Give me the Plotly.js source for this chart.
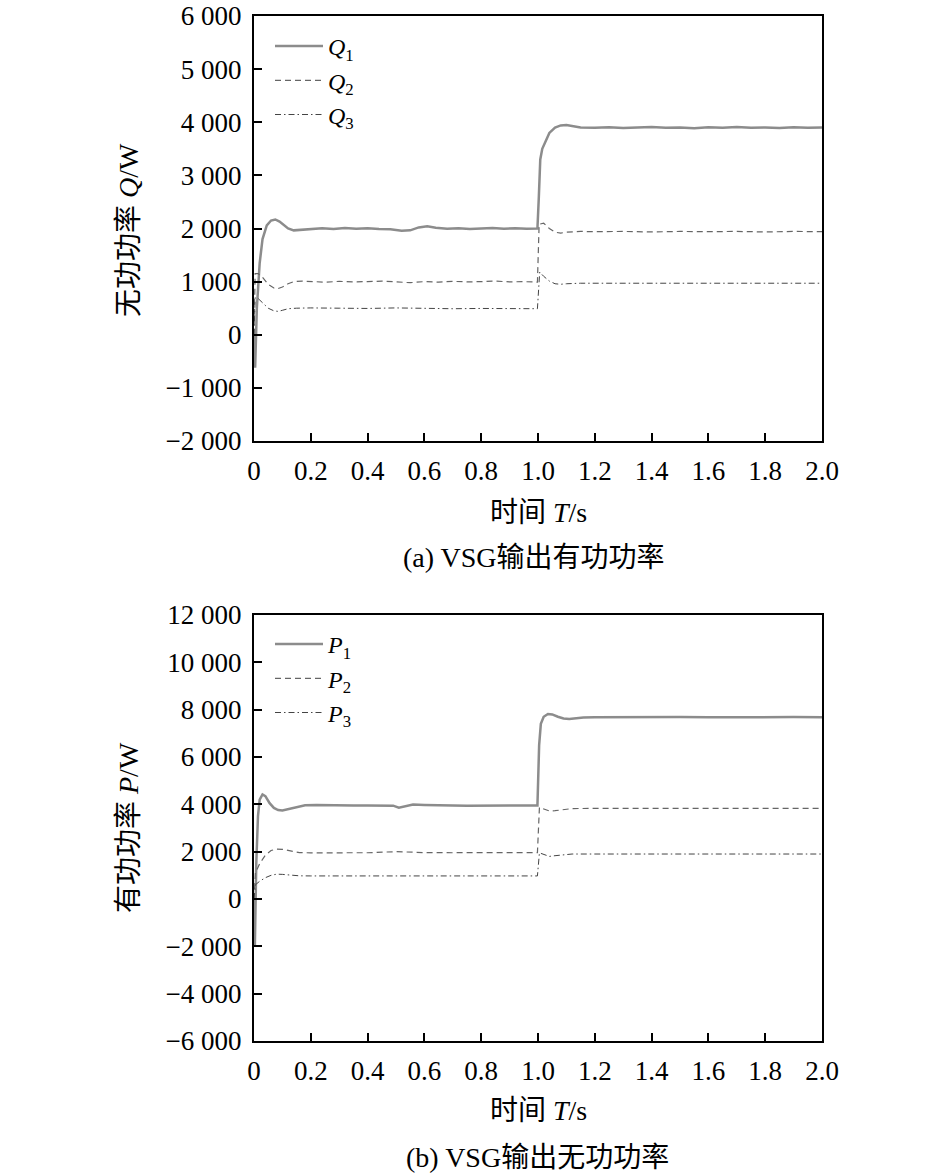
<!DOCTYPE html>
<html>
<head>
<meta charset="utf-8">
<script src="https://cdn.plot.ly/plotly-3.0.1.min.js"></script>
<style>html,body{margin:0;padding:0;background:#fff;}#chart{width:945px;height:1175px;}</style>
</head>
<body>
<div id="chart"></div>
<script>
// ---------- data ----------
const tQ1 = [0,0.004,0.01,0.02,0.03,0.045,0.06,0.075,0.09,0.105,0.12,0.14,0.16,0.2,0.24,0.28,0.32,0.36,0.40,0.44,0.48,0.52,0.55,0.58,0.61,0.64,0.68,0.72,0.76,0.80,0.84,0.88,0.92,0.96,0.998,1.003,1.008,1.015,1.025,1.04,1.06,1.08,1.10,1.12,1.15,1.2,1.25,1.3,1.35,1.4,1.45,1.5,1.55,1.6,1.65,1.7,1.75,1.8,1.85,1.9,1.95,2.0];
const Q1  = [0,-620,500,1350,1800,2060,2150,2170,2130,2060,2000,1965,1975,1995,2005,1990,2010,1995,2005,1990,1985,1960,1965,2020,2040,2015,1995,2005,1990,2000,2010,1995,2005,1995,2000,2600,3300,3500,3620,3800,3900,3940,3950,3930,3900,3895,3905,3890,3900,3910,3895,3900,3885,3905,3895,3910,3895,3900,3890,3905,3895,3900];

const tQ2 = [0,0.004,0.015,0.03,0.05,0.07,0.085,0.1,0.12,0.14,0.17,0.2,0.25,0.3,0.35,0.4,0.45,0.5,0.55,0.6,0.65,0.7,0.75,0.8,0.85,0.9,0.95,0.998,1.004,1.02,1.04,1.06,1.08,1.1,1.15,1.2,1.3,1.4,1.5,1.6,1.7,1.8,1.9,2.0];
const Q2  = [0,1150,1150,1080,950,880,870,900,960,1000,1010,1000,990,1005,995,1000,1010,995,980,1000,990,1005,995,1000,1010,995,1000,990,2080,2100,2000,1930,1915,1930,1945,1940,1945,1935,1945,1940,1945,1935,1945,1940];

const tQ3 = [0,0.004,0.015,0.03,0.05,0.07,0.085,0.1,0.12,0.15,0.2,0.3,0.4,0.5,0.6,0.7,0.8,0.9,0.998,1.006,1.02,1.04,1.06,1.08,1.1,1.15,1.3,1.5,1.7,1.9,2.0];
const Q3  = [0,700,680,600,500,450,440,460,490,500,505,500,495,505,495,490,495,490,490,1180,1100,1010,960,950,960,970,970,965,970,968,970];

const tP1 = [0,0.003,0.008,0.014,0.02,0.03,0.04,0.055,0.07,0.085,0.1,0.12,0.15,0.18,0.22,0.26,0.3,0.35,0.4,0.45,0.49,0.51,0.53,0.56,0.6,0.65,0.7,0.75,0.8,0.85,0.9,0.95,0.998,1.004,1.01,1.02,1.035,1.05,1.07,1.09,1.11,1.13,1.16,1.2,1.3,1.4,1.5,1.6,1.7,1.8,1.9,2.0];
const P1  = [0,-2000,1500,3500,4200,4420,4350,4050,3850,3760,3740,3800,3900,3960,3970,3955,3960,3950,3955,3950,3945,3860,3920,3990,3975,3950,3955,3945,3955,3950,3945,3955,3950,6500,7400,7700,7820,7800,7700,7630,7610,7640,7670,7680,7690,7675,7685,7680,7690,7675,7685,7680];

const tP2 = [0,0.005,0.02,0.04,0.06,0.08,0.1,0.13,0.16,0.2,0.3,0.4,0.5,0.6,0.7,0.8,0.9,0.998,1.005,1.02,1.04,1.06,1.09,1.12,1.2,1.4,1.6,1.8,2.0];
const P2  = [0,1100,1500,1850,2050,2110,2100,2020,1960,1950,1960,1955,2000,1960,1955,1960,1955,1960,3870,3800,3720,3730,3790,3820,3830,3825,3830,3825,3830];

const tP3 = [0,0.005,0.02,0.04,0.06,0.08,0.1,0.13,0.16,0.2,0.4,0.6,0.8,0.998,1.005,1.02,1.04,1.06,1.09,1.12,1.2,1.5,1.8,2.0];
const P3  = [0,600,750,900,1000,1050,1040,1000,980,975,980,975,978,975,1950,1880,1800,1830,1880,1900,1900,1905,1900,1900];

const xTickVals = [0,0.2,0.4,0.6,0.8,1.0,1.2,1.4,1.6,1.8,2.0];
const xTickText = ["0","0.2","0.4","0.6","0.8","1.0","1.2","1.4","1.6","1.8","2.0"];

// ---------- styling ----------
const FONT = '"Liberation Serif", "Noto Sans CJK SC", serif';
const W = 945, H = 1175;
const px = v => v / W, py = v => 1 - v / H;
const s1 = {color:'#8c8c8c', width:2.5};
const s2 = {color:'#666666', width:1.2, dash:'6px,4px'};
const s3 = {color:'#444444', width:1, dash:'6px,3px,1.5px,3px'};

const traces = [
  {x:tQ1, y:Q1, name:'<i>Q</i><sub>1</sub>', mode:'lines', line:s1, xaxis:'x', yaxis:'y', legend:'legend'},
  {x:tQ2, y:Q2, name:'<i>Q</i><sub>2</sub>', mode:'lines', line:s2, xaxis:'x', yaxis:'y', legend:'legend'},
  {x:tQ3, y:Q3, name:'<i>Q</i><sub>3</sub>', mode:'lines', line:s3, xaxis:'x', yaxis:'y', legend:'legend'},
  {x:tP1, y:P1, name:'<i>P</i><sub>1</sub>', mode:'lines', line:s1, xaxis:'x2', yaxis:'y2', legend:'legend2'},
  {x:tP2, y:P2, name:'<i>P</i><sub>2</sub>', mode:'lines', line:s2, xaxis:'x2', yaxis:'y2', legend:'legend2'},
  {x:tP3, y:P3, name:'<i>P</i><sub>3</sub>', mode:'lines', line:s3, xaxis:'x2', yaxis:'y2', legend:'legend2'}
];

const axBase = {
  showline:true, linecolor:'#000', linewidth:2, mirror:true,
  ticks:'inside', ticklen:8, tickwidth:2, tickcolor:'#000',
  showgrid:false, zeroline:false,
  tickfont:{family:FONT, size:27, color:'#000'}
};
const xAx = Object.assign({}, axBase, {range:[0,2], tickvals:xTickVals, ticktext:xTickText, domain:[px(254), px(822)], ticklabelstandoff:5});

const legBase = {
  font:{family:FONT, size:24, color:'#000'}, bgcolor:'rgba(0,0,0,0)',
  xanchor:'left', yanchor:'top', tracegroupgap:0, itemwidth:48
};

const ann = (x, y, text, angle, size) => ({
  xref:'paper', yref:'paper', x:px(x), y:py(y), text:text, showarrow:false,
  xanchor:'center', yanchor:'middle', textangle:angle||0,
  font:{family:FONT, size:size||28, color:'#000'}
});

const layout = {
  width:W, height:H, margin:{l:0,r:0,t:0,b:0},
  paper_bgcolor:'#fff', plot_bgcolor:'#fff',
  separators:'. ',
  showlegend:true,
  xaxis: Object.assign({}, xAx, {anchor:'y'}),
  xaxis2: Object.assign({}, xAx, {anchor:'y2'}),
  yaxis: Object.assign({}, axBase, {range:[-2000,6000], dtick:1000, tickformat:',d', domain:[py(441), py(16)], anchor:'x', ticklabelstandoff:5}),
  yaxis2: Object.assign({}, axBase, {range:[-6000,12000], dtick:2000, tickformat:',d', domain:[py(1041), py(615)], anchor:'x2', ticklabelstandoff:5}),
  legend: Object.assign({}, legBase, {x:px(270), y:py(24)}),
  legend2: Object.assign({}, legBase, {x:px(270), y:py(622)}),
  annotations:[
    ann(128, 230, '无功功率 <i>Q</i>/W', -90, 28),
    ann(538, 512, '时间 <i>T</i>/s', 0, 28),
    ann(534, 557, '(a) VSG输出有功功率', 0, 28),
    ann(128, 828, '有功功率 <i>P</i>/W', -90, 28),
    ann(538, 1110, '时间 <i>T</i>/s', 0, 28),
    ann(537, 1157, '(b) VSG输出无功功率', 0, 28)
  ]
};

Plotly.newPlot('chart', traces, layout, {staticPlot:true, displayModeBar:false});
</script>
</body>
</html>
